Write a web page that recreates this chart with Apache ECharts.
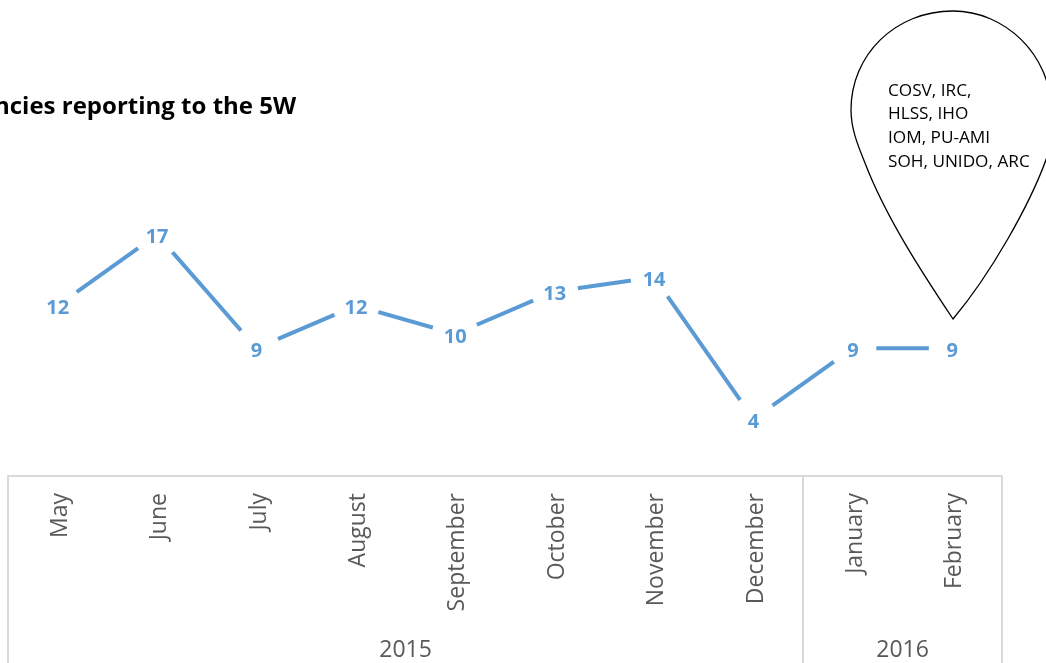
<!DOCTYPE html>
<html><head><meta charset="utf-8">
<style>html,body{margin:0;padding:0;background:#fff}#c{width:1046px;height:663px}</style>
<script src="https://cdn.jsdelivr.net/npm/echarts@6/dist/echarts.min.js"></script>
</head><body><div id="c"></div>
<script>
const months = ['May','June','July','August','September','October','November','December','January','February'];
const agencies = [12,17,9,12,10,13,14,4,9,9];
const years = ['2015','2016'];
const yearCenters = [4,9];
const yearEdges = [0,8,10];
const titleText = 'ncies reporting to the 5W';
const pinLines = ['COSV, IRC,','HLSS, IHO','IOM, PU-AMI','SOH, UNIDO, ARC'];
const font = '"Open Sans"';
const grey = '#595959', rule = '#d9d9d9', blue = '#5b9bd5';
echarts.graphic.registerShape('pin', echarts.graphic.extendPath('M953 319 C925 277 886 218 865 163 C859 148 851 130 851 110 C851 55 895 11 953 11 C1005 11 1051 55 1051 110 C1051 125 1052 140 1047 157 C1030 205 990 275 953 319 Z', {}));
const chart = echarts.init(document.getElementById('c'), null, {renderer:'canvas'});
chart.setOption({
  animation:false,
  backgroundColor:'#fff',
  grid:{left:8,right:44,top:192,bottom:187,containLabel:false},
  xAxis:[
    {type:'category',data:months,boundaryGap:true,
     axisLine:{show:true,lineStyle:{color:rule,width:2}},axisTick:{show:false},
     axisLabel:{rotate:90,interval:0,margin:17,color:grey,fontFamily:font,fontSize:23,verticalAlign:'top',lineHeight:5}},
    {type:'value',position:'bottom',min:0,max:10,splitLine:{show:false},
     axisLine:{show:false},
     axisTick:{show:true,customValues:yearEdges,length:190,lineStyle:{color:rule,width:2}},
     axisLabel:{show:true,customValues:yearCenters,margin:163,color:grey,fontFamily:font,fontSize:23,
       formatter:v=>years[yearCenters.indexOf(v)]}}
  ],
  yAxis:{type:'value',min:0,max:20,show:false},
  series:[{type:'line',data:agencies,xAxisIndex:0,symbol:'circle',symbolSize:47,showAllSymbol:true,silent:true,
    itemStyle:{color:'#fff',borderWidth:0},
    lineStyle:{color:blue,width:4,cap:'butt',join:'round'},
    label:{show:true,position:'inside',offset:[0,3],color:blue,fontFamily:font,fontWeight:'bold',fontSize:20}}],
  graphic:[
    {type:'text',left:-6,top:95,style:{text:titleText,fill:'#000',font:'bold 24px '+font}},
    {type:'pin',z:10,style:{fill:'none',stroke:'#000',lineWidth:1.3}},
    {type:'text',z:11,left:888,top:79,style:{text:pinLines.join('\n'),fill:'#000',font:'17.2px '+font,lineHeight:23.7}}
  ]
});
</script></body></html>
